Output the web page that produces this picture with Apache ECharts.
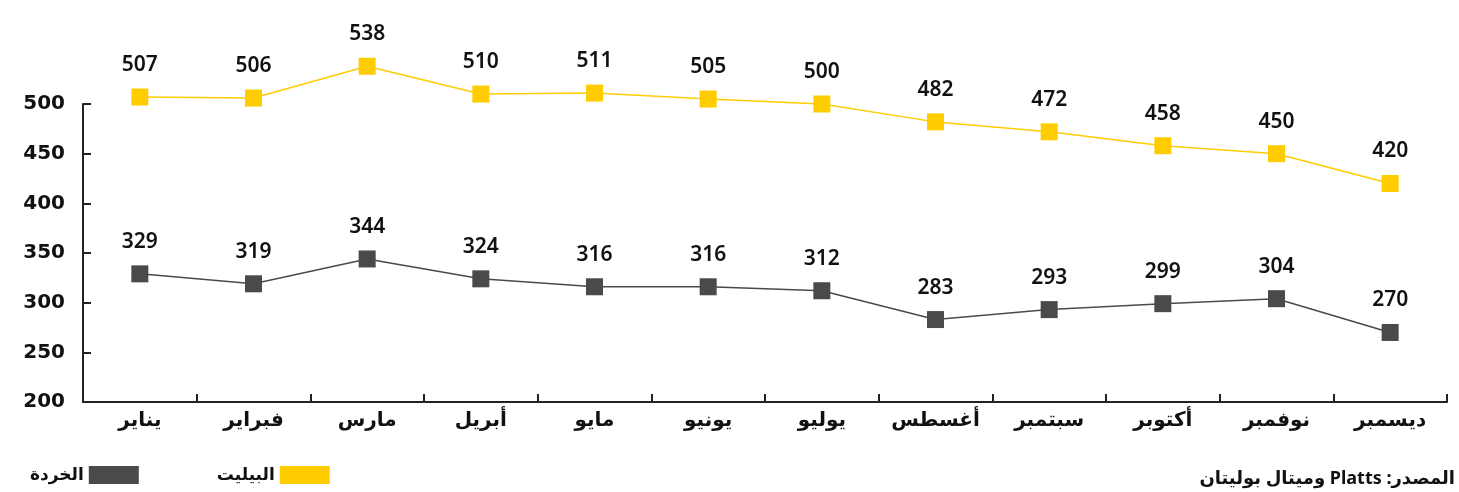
<!DOCTYPE html>
<html>
<head>
<meta charset="utf-8">
<script src="https://cdn.jsdelivr.net/npm/echarts@6/dist/echarts.min.js"></script>
<style>
  html, body { margin: 0; padding: 0; background: #fff; }
  #chart { width: 1459px; height: 492px; }
</style>
</head>
<body>
<div id="chart"></div>
<script>
// الأشهر
var months = ['يناير', 'فبراير', 'مارس', 'أبريل', 'مايو', 'يونيو', 'يوليو', 'أغسطس', 'سبتمبر', 'أكتوبر', 'نوفمبر', 'ديسمبر'];
// البيليت
var billet = [507, 506, 538, 510, 511, 505, 500, 482, 472, 458, 450, 420];
// الخردة
var scrap = [329, 319, 344, 324, 316, 316, 312, 283, 293, 299, 304, 270];
var yTicks = [200, 250, 300, 350, 400, 450, 500];

var FONT = '"Noto Sans", "DejaVu Sans", sans-serif';
var WIDE = '"DejaVu Sans", sans-serif';
var YELLOW = '#FFCC00';
var DARK = '#4a4a4a';

var chart = echarts.init(document.getElementById('chart'));

function lineSeries(name, data, color) {
  return {
    name: name,
    type: 'line',
    data: data,
    clip: false,
    symbol: 'rect',
    symbolSize: 17,
    itemStyle: { color: color },
    lineStyle: { color: color, width: 1.5 },
    label: {
      show: true,
      position: 'top',
      distance: 13,
      color: '#111',
      fontFamily: FONT,
      fontWeight: 600,
      fontSize: 21
    },
    emphasis: { disabled: true },
    animation: false
  };
}

chart.setOption({
  animation: false,
  grid: { left: 83, right: 12, top: 104, bottom: 90 },
  legend: {
    left: 25,
    bottom: 3,
    align: 'right',
    itemWidth: 50,
    itemHeight: 18,
    itemGap: 78,
    icon: 'rect',
    selectedMode: false,
    textStyle: { fontFamily: FONT, fontWeight: 'bold', fontSize: 17, color: '#111' },
    data: [
      { name: 'الخردة', itemStyle: { color: DARK } },
      { name: 'البيليت', itemStyle: { color: YELLOW } }
    ]
  },
  graphic: [{
    type: 'text',
    right: 4,
    bottom: 4,
    style: {
      // RLE ... PDF so the colon sits on the right side
      text: '\u202Bالمصدر: Platts وميتال بوليتان\u202C',
      fontFamily: FONT,
      fontWeight: 'bold',
      fontSize: 18,
      fill: '#111'
    }
  }],
  xAxis: {
    type: 'category',
    data: months,
    boundaryGap: true,
    axisLine: { lineStyle: { color: '#222', width: 2 } },
    axisTick: { show: true, inside: true, interval: 0, length: 8, lineStyle: { color: '#222', width: 2 } },
    axisLabel: { interval: 0, color: '#111', fontFamily: FONT, fontWeight: 'bold', fontSize: 20, margin: 8 }
  },
  yAxis: {
    type: 'value',
    min: yTicks[0],
    max: yTicks[yTicks.length - 1],
    interval: 50,
    splitLine: { show: false },
    axisLine: { show: true, lineStyle: { color: '#222', width: 2 } },
    axisTick: { show: true, inside: true, length: 8, lineStyle: { color: '#222', width: 2 } },
    axisLabel: { color: '#111', fontFamily: WIDE, fontWeight: 'bold', fontSize: 20, margin: 18 }
  },
  series: [
    lineSeries('البيليت', billet, YELLOW),
    lineSeries('الخردة', scrap, DARK)
  ]
});
</script>
</body>
</html>
